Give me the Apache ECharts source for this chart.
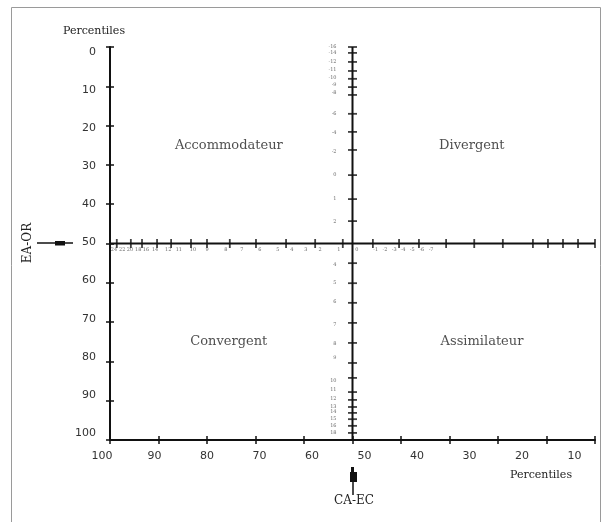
<!DOCTYPE html>
<html><head><meta charset="utf-8">
<script src="https://cdn.jsdelivr.net/npm/echarts@6/dist/echarts.min.js"></script>
<style>html,body{margin:0;padding:0;background:#fff}#c{width:607px;height:522px}</style>
</head><body><div id="c"></div>
<script>
// ---- data ----
const xLabelValues = [100, 90, 80, 70, 60, 50, 40, 30, 20, 10];
const yLabelValues = [0, 10, 20, 30, 40, 50, 60, 70, 80, 90, 100];
const quadrantNames = ['Accommodateur', 'Divergent', 'Convergent', 'Assimilateur'];
const quadrantX = [75.5, 25.4, 75.5, 23.3];
const quadrantY = [25, 25, 75, 75];
const crossX = 50;
const crossY = 50;
// EA-OR raw-score scale on the horizontal line (positions in percentiles)
const hRawTickPos = [98.6, 95.7, 93.4, 90.3, 87.4, 83.3, 80.0, 75.3, 69.9, 63.7, 57.7, 52.0,
  45.8, 40.4, 36.3, 30.7, 24.9, 19.0, 12.8, 9.7, 6.6, 3.5, 0];
const hRawLabelPos = [99.2, 97.5, 95.9, 94.2, 92.6, 90.7, 88.0, 85.8, 82.9, 80.0, 76.1, 72.8,
  69.1, 65.4, 62.5, 59.6, 56.7, 52.8, 49.1, 45.2, 43.3, 41.4, 39.6, 37.7, 35.7, 33.8];
const hRawLabels = ['24', '22', '20', '18', '16', '14', '12', '11', '10', '9', '8', '7',
  '6', '5', '4', '3', '2', '1', '0', '-1', '-2', '-3', '-4', '-5', '-6', '-7'];
// CA-EC raw-score scale on the vertical line (positions in percentiles)
const vRawTickPos = [0, 1.5, 3.8, 6.1, 8.1, 10.2, 12.2, 17.0, 21.6, 26.2, 32.6, 38.7, 44.3,
  55.0, 60.1, 65.1, 70.2, 75.3, 80.4, 84.2, 87.8, 89.8, 91.6, 93.1, 94.7, 96.4, 98.2];
const vRawLabelPos = [0, 1.5, 3.8, 5.9, 7.9, 9.7, 11.7, 17.0, 21.9, 26.7, 32.6, 38.7, 44.5,
  55.5, 60.1, 64.9, 70.7, 75.6, 79.1, 85.0, 87.3, 89.6, 91.6, 92.9, 94.7, 96.4, 98.2];
const vRawLabels = ['-16', '-14', '-12', '-11', '-10', '-9', '-8', '-6', '-4', '-2', '0', '1', '2',
  '4', '5', '6', '7', '8', '9', '10', '11', '12', '13', '14', '15', '16', '18'];

// ---- chart ----
const black = '#111';
const serif = '"DejaVu Serif", serif';
const sans = '"DejaVu Sans", sans-serif';

const chart = echarts.init(document.getElementById('c'));
const baseAxis = { type: 'value', min: 0, max: 100, interval: 10, inverse: true, splitLine: { show: false } };

chart.setOption({
  animation: false,
  backgroundColor: '#fff',
  grid: [
    { left: 110, right: 12, top: 47, bottom: 82 },
    { left: 102, right: 32.5, top: 52, bottom: 89 }
  ],
  xAxis: [
    Object.assign({}, baseAxis, { gridIndex: 0, position: 'bottom',
      axisLine: { show: true, onZero: false, lineStyle: { color: black, width: 2 } },
      axisTick: { show: true, inside: false, length: 4, lineStyle: { color: black, width: 1.5 } },
      axisLabel: { show: false } }),
    Object.assign({}, baseAxis, { gridIndex: 0, position: 'bottom',
      axisLine: { show: false, onZero: false },
      axisTick: { show: true, inside: true, length: 4, lineStyle: { color: black, width: 1.5 } },
      axisLabel: { show: false } }),
    { type: 'value', gridIndex: 1, min: 10, max: 100, interval: 10, inverse: true, position: 'bottom',
      splitLine: { show: false }, axisLine: { show: false, onZero: false }, axisTick: { show: false },
      axisLabel: { show: true, margin: 18, color: '#333', fontFamily: sans, fontSize: 11 } }
  ],
  yAxis: [
    Object.assign({}, baseAxis, { gridIndex: 0, position: 'left',
      axisLine: { show: true, onZero: false, lineStyle: { color: black, width: 2 } },
      axisTick: { show: true, inside: false, length: 4, lineStyle: { color: black, width: 1.5 } },
      axisLabel: { show: false } }),
    Object.assign({}, baseAxis, { gridIndex: 0, position: 'left',
      axisLine: { show: false, onZero: false },
      axisTick: { show: true, inside: true, length: 4, lineStyle: { color: black, width: 1.5 } },
      axisLabel: { show: false } }),
    { type: 'value', gridIndex: 1, min: 0, max: 100, interval: 10, inverse: true, position: 'left',
      splitLine: { show: false }, axisLine: { show: false, onZero: false }, axisTick: { show: false },
      axisLabel: { show: true, margin: 6, color: '#333', fontFamily: sans, fontSize: 11 } }
  ],
  series: [
    { type: 'line', xAxisIndex: 0, yAxisIndex: 0, symbol: 'none', silent: true,
      lineStyle: { color: black, width: 2 }, data: [[100, crossY], [0, crossY]] },
    { type: 'line', xAxisIndex: 0, yAxisIndex: 0, symbol: 'none', silent: true,
      lineStyle: { color: black, width: 2 }, data: [[crossX, 0], [crossX, 100]] },
    { type: 'scatter', xAxisIndex: 0, yAxisIndex: 0, symbol: 'rect', symbolSize: [1.8, 9], silent: true,
      itemStyle: { color: black }, data: hRawTickPos.map(v => [v, crossY]) },
    { type: 'scatter', xAxisIndex: 0, yAxisIndex: 0, symbol: 'rect', symbolSize: [9, 1.8], silent: true,
      itemStyle: { color: black }, data: vRawTickPos.map(v => [crossX, v]) },
    { type: 'scatter', xAxisIndex: 0, yAxisIndex: 0, symbolSize: 0, silent: true,
      data: hRawLabelPos.map((v, i) => ({ value: [v, crossY], name: hRawLabels[i] })),
      label: { show: true, position: 'bottom', distance: 4, formatter: '{b}', fontSize: 5, color: '#444', fontFamily: serif } },
    { type: 'scatter', xAxisIndex: 0, yAxisIndex: 0, symbolSize: 0, silent: true,
      data: vRawLabelPos.map((v, i) => ({ value: [crossX, v], name: vRawLabels[i] })),
      label: { show: true, position: 'left', distance: 16, formatter: '{b}', fontSize: 5, color: '#444', fontFamily: serif } },
    { type: 'scatter', xAxisIndex: 0, yAxisIndex: 0, symbolSize: 0, silent: true,
      data: quadrantNames.map((n, i) => ({ value: [quadrantX[i], quadrantY[i]], name: n })),
      label: { show: true, position: 'inside', formatter: '{b}', fontSize: 13, color: '#222', fontFamily: serif } }
  ],
  graphic: [
    { type: 'rect', shape: { x: 11.5, y: 7.5, width: 589, height: 520 }, silent: true,
      style: { fill: 'none', stroke: '#9a9a9a', lineWidth: 1 } },
    { type: 'text', x: 94, y: 31, silent: true,
      style: { text: 'Percentiles', fill: '#222', font: '11px ' + serif, align: 'center', verticalAlign: 'middle' } },
    { type: 'text', x: 541, y: 475, silent: true,
      style: { text: 'Percentiles', fill: '#222', font: '11px ' + serif, align: 'center', verticalAlign: 'middle' } },
    { type: 'text', x: 28, y: 243, rotation: Math.PI / 2, silent: true,
      style: { text: 'EA-OR', fill: '#222', font: '12px ' + serif, align: 'center', verticalAlign: 'middle' } },
    { type: 'line', shape: { x1: 37, y1: 243, x2: 73, y2: 243 }, silent: true, style: { stroke: black, lineWidth: 1.5 } },
    { type: 'rect', shape: { x: 55, y: 241, width: 10, height: 4.5 }, silent: true, style: { fill: black } },
    { type: 'text', x: 354, y: 501, silent: true,
      style: { text: 'CA-EC', fill: '#222', font: '12px ' + serif, align: 'center', verticalAlign: 'middle' } },
    { type: 'line', shape: { x1: 353, y1: 478, x2: 353, y2: 495 }, silent: true, style: { stroke: black, lineWidth: 1.5 } },
    { type: 'polygon', shape: { points: [[351, 467], [354, 467], [354, 472], [357, 472], [357, 482], [350, 482], [350, 472], [351, 472]] },
      silent: true, style: { fill: black } }
  ]
});
</script>
</body></html>
